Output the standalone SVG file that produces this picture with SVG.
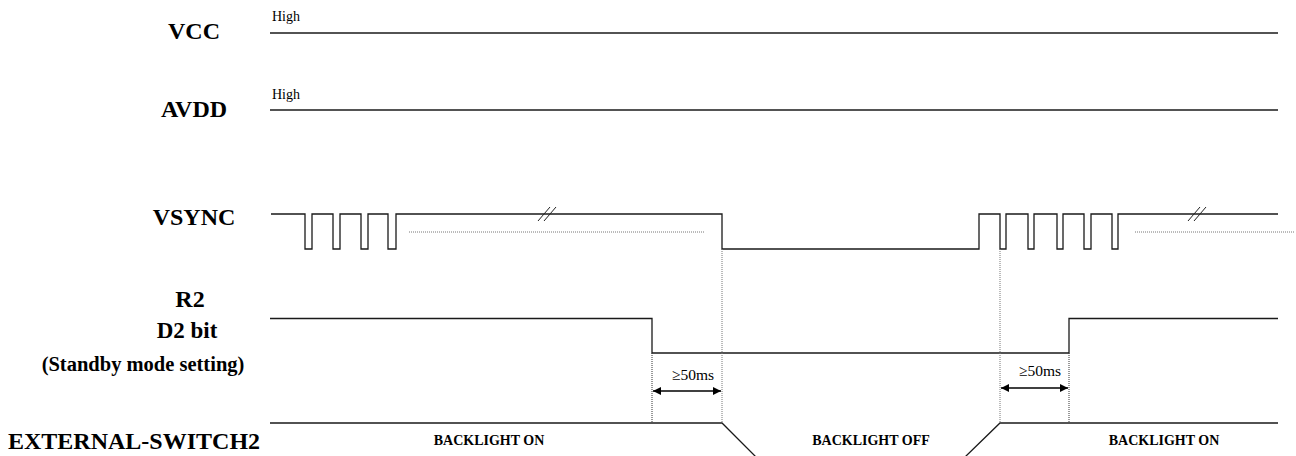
<svg xmlns="http://www.w3.org/2000/svg" width="1296" height="456" viewBox="0 0 1296 456">
<style>
.lbl{font-family:"Liberation Serif","Times New Roman",serif;font-weight:bold;fill:#000}
.sm{font-family:"Liberation Serif","Times New Roman",serif;fill:#000}
.sig{fill:none;stroke:#1a1a1a;stroke-width:1.3}
.dot{fill:none;stroke:#777;stroke-width:1;stroke-dasharray:1 1}
.dotd{fill:none;stroke:#333;stroke-width:1;stroke-dasharray:1 1}
.arr{fill:none;stroke:#000;stroke-width:1.3}
.sl{fill:none;stroke:#222;stroke-width:1}
</style>
<defs>
<marker id="ah" viewBox="0 0 10 10" refX="10" refY="5" markerWidth="9" markerHeight="8" markerUnits="userSpaceOnUse" orient="auto-start-reverse">
<path d="M0,0 L10,5 L0,10 z" fill="#000"/>
</marker>
</defs>
<rect width="1296" height="456" fill="#fff"/>

<g id="vcc">
<text class="lbl" x="194" y="39" font-size="24" text-anchor="middle">VCC</text>
<text class="sm" x="272" y="21" font-size="14">High</text>
<line class="sig" x1="270" y1="33" x2="1278" y2="33"/>
</g>

<g id="avdd">
<text class="lbl" x="194" y="117" font-size="24" text-anchor="middle">AVDD</text>
<text class="sm" x="272" y="99" font-size="14">High</text>
<line class="sig" x1="270" y1="110" x2="1278" y2="110"/>
</g>

<g id="vsync">
<text class="lbl" x="194" y="225" font-size="24" text-anchor="middle">VSYNC</text>
<path class="sig" d="M271,214 H305 V249 H312 V214 H333 V249 H340 V214 H361 V249 H368 V214 H388 V249 H396 V214 H722 V249 H979 V214 H1000 V249 H1006 V214 H1028 V249 H1034 V214 H1057 V249 H1063 V214 H1084 V249 H1091 V214 H1112 V249 H1118 V214 H1278"/>
<line class="dot" x1="409" y1="232" x2="705" y2="232"/>
<line class="dot" x1="1135" y1="232" x2="1294" y2="232"/>
<line class="sl" x1="538" y1="221" x2="550" y2="207"/>
<line class="sl" x1="544" y1="221" x2="556" y2="207"/>
<line class="sl" x1="1188" y1="221" x2="1200" y2="207"/>
<line class="sl" x1="1194" y1="221" x2="1206" y2="207"/>
</g>

<g id="r2">
<text class="lbl" x="190" y="307" font-size="24" text-anchor="middle">R2</text>
<text class="lbl" x="187" y="338" font-size="23" text-anchor="middle">D2 bit</text>
<text class="lbl" x="143" y="371" font-size="20.5" text-anchor="middle">(Standby mode setting)</text>
<path class="sig" d="M270,318.5 H652 V353 H1069 V318.5 H1278"/>
</g>

<g id="extsw">
<text class="lbl" x="8" y="449" font-size="24">EXTERNAL-SWITCH2</text>
<path class="sig" d="M270,423 H722 L756,457"/>
<path class="sig" d="M965,457 L1000,423 H1278"/>
<text class="lbl" x="489" y="445" font-size="14" text-anchor="middle">BACKLIGHT ON</text>
<text class="lbl" x="871" y="445" font-size="14" text-anchor="middle">BACKLIGHT OFF</text>
<text class="lbl" x="1164" y="445" font-size="14" text-anchor="middle">BACKLIGHT ON</text>
</g>

<g id="connectors">
<line class="dot" x1="722" y1="249" x2="722" y2="423"/>
<line class="dot" x1="1000" y1="249" x2="1000" y2="423"/>
<line class="dotd" x1="652" y1="353" x2="652" y2="423"/>
<line class="dotd" x1="1069" y1="353" x2="1069" y2="423"/>
<line class="arr" x1="653" y1="391" x2="721" y2="391" marker-start="url(#ah)" marker-end="url(#ah)"/>
<line class="arr" x1="1001" y1="388" x2="1068" y2="388" marker-start="url(#ah)" marker-end="url(#ah)"/>
<text class="sm" x="672" y="380" font-size="15.5">≥50ms</text>
<text class="sm" x="1019" y="376" font-size="15.5">≥50ms</text>
</g>
</svg>
